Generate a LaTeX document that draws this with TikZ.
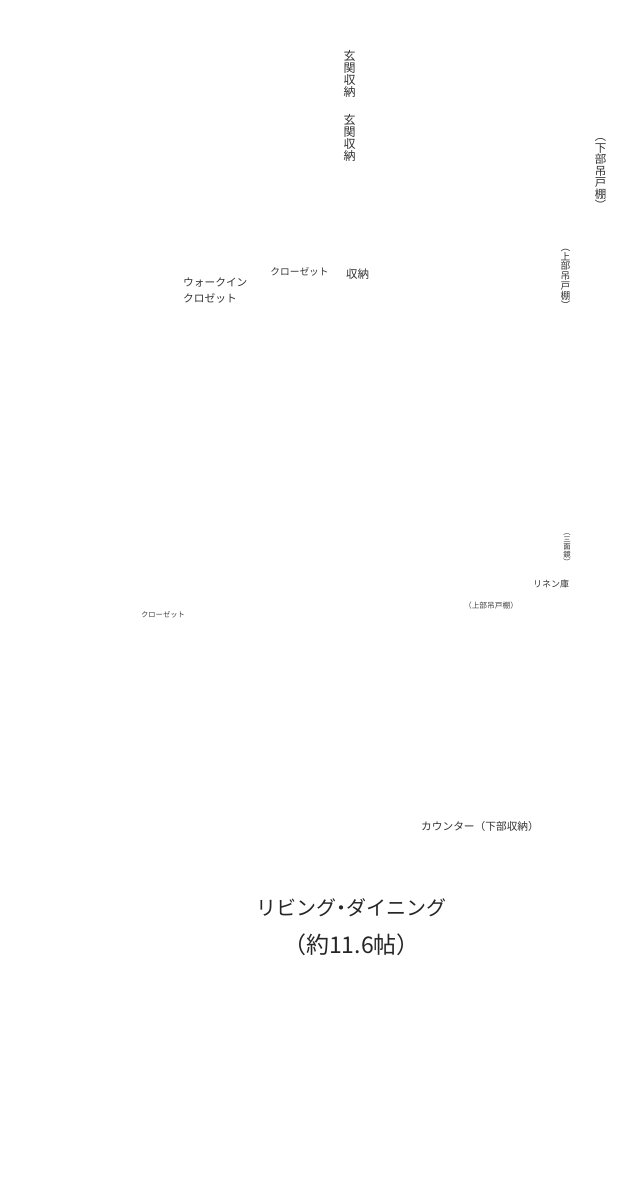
\documentclass[tikz,border=0pt]{standalone}
\usepackage{fontspec}
\setmainfont{Noto Sans CJK JP}[Scale=1]
\usetikzlibrary{calc}
\newcommand{\vlp}{\rotatebox[origin=c]{-90}{（}}
\newcommand{\vrp}{\rotatebox[origin=c]{-90}{）}}
\tikzset{
  label7/.style={inner sep=0pt,text=black!75,font=\fontsize{7.7}{7.7}\selectfont},
  label9/.style={inner sep=0pt,text=black!80,font=\fontsize{9.7}{9.7}\selectfont},
  label10/.style={inner sep=0pt,text=black!80,font=\fontsize{10.7}{15.5}\selectfont},
  label12/.style={inner sep=0pt,text=black!80,font=\fontsize{11.5}{12}\selectfont},
  title/.style={inner sep=0pt,text=black!85,font=\fontsize{20}{38}\selectfont},
  vlabel/.style={inner sep=0pt,align=center,text=black!80,font=\fontsize{#1}{#1}\selectfont}
}
\begin{document}
\begin{tikzpicture}[x=1pt,y=-1pt]
    \useasboundingbox (0,0) rectangle (643,1186);

    \node[vlabel=12] (entry1) at (349.5,74) {玄\\関\\収\\納};
    \node[vlabel=12] (entry2) at (349.5,138) {玄\\関\\収\\納};

    \node[vlabel=11.5] (lower) at (600.5,171) {\vlp\\下\\部\\吊\\戸\\棚\\\vrp};
    \node[vlabel=9.7] (upper) at (565.5,276) {\vlp\\上\\部\\吊\\戸\\棚\\\vrp};
    \node[vlabel=7.4] (mirror) at (567,547) {\vlp\\三\\面\\鏡\\\vrp};

    \node[label10,align=left,anchor=north west] (walkin) at (183,278) {ウォークイン\\クロゼット};
    \node[label9] (closet) at (299.5,272) {クローゼット};
    \node[label12] (storage) at (357.5,274) {収納};

    \node[label9,font=\fontsize{9}{9}\selectfont] (linen) at (551,584.5) {リネン庫};
    \node[label7] (hanging) at (491,605.5) {（上部吊戸棚）};
    \node[label7,font=\fontsize{7.3}{7.3}\selectfont] (closetb) at (163,614.5) {クローゼット};

    \node[label10] (counter) at (480,826) {カウンター（下部収納）};

    \node[title,align=center] (living) at (351.5,927) {リビング\hspace{-.25em}・\hspace{-.25em}ダイニング\\{\fontsize{23}{38}\selectfont（約11.6帖）}};
\end{tikzpicture}
\end{document}
